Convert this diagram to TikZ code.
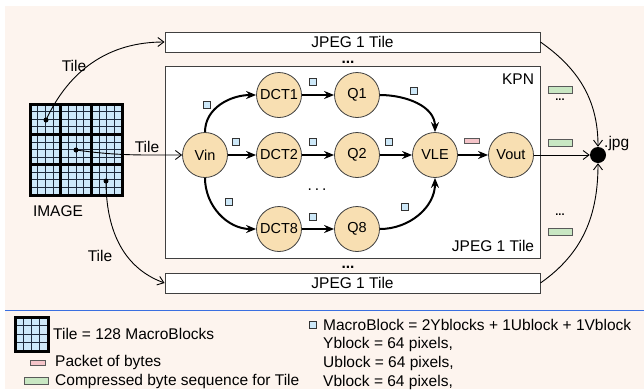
\documentclass[tikz,border=0pt]{standalone}
\usepackage{fontspec}
\setmainfont{Liberation Sans}
\usetikzlibrary{arrows.meta}
\definecolor{bg}{HTML}{FDF4EE}
\definecolor{nodefill}{HTML}{F8DFB2}
\definecolor{mbfill}{HTML}{CDE8F8}
\definecolor{imgfill}{HTML}{CDE9FA}
\definecolor{pk}{HTML}{F5C4C9}
\definecolor{gr}{HTML}{C9E7C3}
\definecolor{rulecol}{HTML}{3A6FE0}
\definecolor{gridcol}{HTML}{1E2B3C}
\tikzset{
  proc/.style={circle, draw=black!75, fill=nodefill, minimum size=45pt, inner sep=0pt, line width=0.8pt, font=\fontsize{14.5}{16}\selectfont},
  flow/.style={line width=2pt, -{Stealth[length=10pt,width=8pt]}},
  thinarrow/.style={line width=0.9pt, -{Straight Barb[length=6pt,width=9pt]}},
  tilebox/.style={draw=black!75, fill=white, line width=0.9pt, inner sep=0pt, font=\fontsize{15.5}{18}\selectfont},
  mb/.style={draw=black!80, fill=mbfill, minimum size=7pt, inner sep=0pt, line width=0.5pt},
  pkt/.style={draw=black!65, fill=pk, minimum width=15pt, minimum height=5pt, inner sep=0pt, line width=0.5pt},
  cbs/.style={draw=black!65, fill=gr, minimum width=24pt, minimum height=7pt, inner sep=0pt, line width=0.5pt},
  txt/.style={font=\fontsize{15.5}{18}\selectfont, inner sep=0pt},
  small/.style={font=\fontsize{11}{12}\selectfont\bfseries, inner sep=0pt},
  tiledot/.style={circle, fill=black, minimum size=5pt, inner sep=0pt},
  finegrid/.style={draw=gridcol, line width=0.7pt},
  thickgrid/.style={draw=black, line width=3pt}
}
\begin{document}
\begin{tikzpicture}[x=1pt,y=1pt]
\useasboundingbox (0,0) rectangle (644,-389);
\fill[bg] (5,-6) rectangle (644,-389);

% boxes
\node[tilebox, minimum width=375pt, minimum height=20pt] (top) at (352.5,-42) {JPEG 1 Tile};
\node[tilebox, minimum width=375pt, minimum height=192pt] (kpn) at (352.5,-162) {};
\node[tilebox, minimum width=375pt, minimum height=20pt] (bot) at (352.5,-283) {JPEG 1 Tile};
\node[txt] (kpnlabel) at (518,-79) {KPN};
\node[txt] (kpntile) at (493,-246) {JPEG 1 Tile};
\node[txt, font=\fontsize{15.5}{18}\selectfont\bfseries] (dtop) at (348,-62) {...};
\node[txt, font=\fontsize{15.5}{18}\selectfont\bfseries] (dbot) at (348,-267) {...};
\node[txt] (dmid) at (317,-190) {.\hspace{3pt}.\hspace{3pt}.};

% processes
\node[proc] (Vin) at (205,-155) {Vin};
\node[proc] (DCT1) at (279,-95) {DCT1};
\node[proc] (Q1) at (357,-95) {Q1};
\node[proc] (DCT2) at (279,-155) {DCT2};
\node[proc] (Q2) at (357,-155) {Q2};
\node[proc] (VLE) at (435,-155) {VLE};
\node[proc] (Vout) at (511,-155) {Vout};
\node[proc] (DCT8) at (279,-229) {DCT8};
\node[proc] (Q8) at (357,-229) {Q8};

\draw[flow] (Vin.north) to[out=90,in=180] (DCT1.west);
\draw[flow] (DCT1) -- (Q1);
\draw[flow] (Q1.east) to[out=0,in=90] (VLE.north);
\draw[flow] (Vin) -- (DCT2);
\draw[flow] (DCT2) -- (Q2);
\draw[flow] (Q2) -- (VLE);
\draw[flow] (Vin.south) to[out=-90,in=180] (DCT8.west);
\draw[flow] (DCT8) -- (Q8);
\draw[flow] (Q8.east) to[out=0,in=-90] (VLE.south);
\draw[flow] (VLE) -- (Vout);

% macroblocks and packets
\node[mb] (m1) at (207,-105) {};
\node[mb] (m2) at (313,-82) {};
\node[mb] (m3) at (414,-91) {};
\node[mb] (m4) at (236,-142) {};
\node[mb] (m5) at (313,-142) {};
\node[mb] (m6) at (389,-142) {};
\node[mb] (m7) at (229,-202) {};
\node[mb] (m8) at (313,-217) {};
\node[mb] (m9) at (405,-207) {};
\node[pkt] (p1) at (472,-141) {};
\node[cbs] (c1) at (560,-90) {};
\node[cbs] (c2) at (560,-143) {};
\node[cbs] (c3) at (560,-232) {};
\node[small] (cd1) at (560,-100) {...};
\node[small] (cd2) at (560,-215) {...};

% output
\node[circle, fill=black, minimum size=16pt, inner sep=0pt] (jpg) at (598,-155) {};
\node[txt, anchor=base west] (jpglabel) at (604,-147) {.jpg};
\draw[thinarrow] (Vout) -- (jpg);
\draw[thinarrow] (top.east) to[out=-35,in=90] (jpg.north);
\draw[thinarrow] (bot.east) to[out=35,in=-90] (jpg.south);

% image
\fill[imgfill] (30,-104) rectangle (122,-195);
\foreach \i in {1,2,3,5,6,7,9,10,11} {
  \draw[finegrid] ({30+\i*92/12},-104) -- ({30+\i*92/12},-195);
  \draw[finegrid] (30,{-104-\i*91/12}) -- (122,{-104-\i*91/12});
}
\foreach \i in {4,8} {
  \draw[thickgrid] ({30+\i*92/12},-104) -- ({30+\i*92/12},-195);
  \draw[thickgrid] (30,{-104-\i*91/12}) -- (122,{-104-\i*91/12});
}
\draw[thickgrid] (30,-104) rectangle (122,-195);
\node[txt] (imglabel) at (58,-211) {IMAGE};
\node[tiledot] (t1) at (46,-120) {};
\node[tiledot] (t2) at (76,-150) {};
\node[tiledot] (t3) at (106,-181) {};
\draw[thinarrow] (t1.center) to[out=65,in=180] (top.west);
\draw[thinarrow] (t2.center) to[out=-8,in=180] (Vin.west);
\draw[thinarrow] (t3.center) to[out=-90,in=160] (bot.west);
\node[txt] (tl1) at (74,-66) {Tile};
\node[txt] (tl2) at (147,-147) {Tile};
\node[txt] (tl3) at (100,-256) {Tile};

% legend
\draw[rulecol, line width=1pt] (5,-310) -- (644,-310);
\fill[imgfill] (15,-317) rectangle (48,-351);
\foreach \i in {1,2,3} {
  \draw[finegrid] ({15+\i*33/4},-317) -- ({15+\i*33/4},-351);
  \draw[finegrid] (15,{-317-\i*34/4}) -- (48,{-317-\i*34/4});
}
\draw[thickgrid] (15,-317) rectangle (48,-351);
\node[txt, anchor=west] (lg1) at (53,-334) {Tile = 128 MacroBlocks};
\node[pkt] (lgp) at (38,-363) {};
\node[txt, anchor=west] (lg2) at (55,-362) {Packet of bytes};
\node[cbs] (lgc) at (36,-381) {};
\node[txt, anchor=west] (lg3) at (55,-381) {Compressed byte sequence for Tile};
\node[mb] (lgm) at (313,-325) {};
\node[txt, anchor=west] (lg4) at (323,-325) {MacroBlock = 2Yblocks + 1Ublock + 1Vblock};
\node[txt, anchor=west] (lg5) at (323,-344) {Yblock = 64 pixels,};
\node[txt, anchor=west] (lg6) at (323,-363) {Ublock = 64 pixels,};
\node[txt, anchor=west] (lg7) at (323,-382) {Vblock = 64 pixels,};
\end{tikzpicture}
\end{document}
